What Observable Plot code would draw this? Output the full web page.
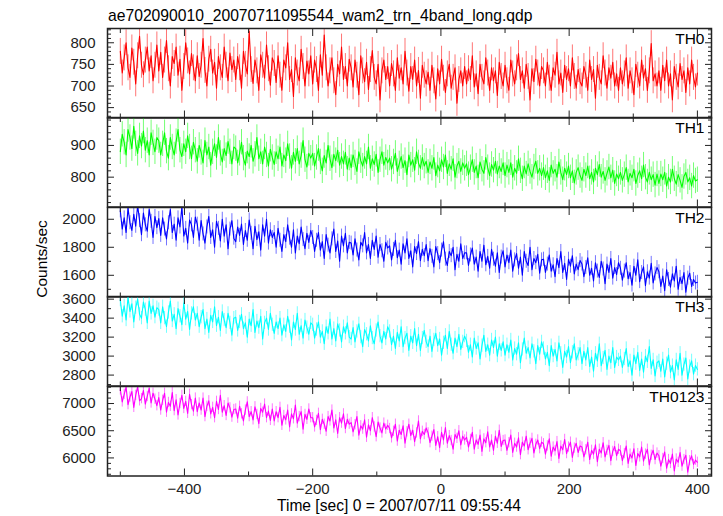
<!DOCTYPE html>
<html><head><meta charset="utf-8">
<script src="https://cdn.jsdelivr.net/npm/d3@7"></script>
<script src="https://cdn.jsdelivr.net/npm/@observablehq/plot@0.6"></script>
<style>
body{margin:0;background:#fff;}
#chart{position:relative;width:723px;height:516px;background:#fff;font-family:"Liberation Sans",Arial,sans-serif;overflow:hidden}
#chart svg{position:absolute;left:0;overflow:visible;background:transparent}
</style></head><body><div id="chart"></div>
<script>
// time grid (seconds relative to 2007/07/11 09:55:44)
const tStart = -500, tStep = 3;
const xDomain = [-520, 422];
const xMajorTicks = [-400, -200, 0, 200, 400];
const xMinorTicks = [-500, -300, -100, 100, 300];

const panelLabels = ["TH0", "TH1", "TH2", "TH3", "TH0123"];
const panelColors = ["#ff0000", "#00ff00", "#0000ff", "#00ffff", "#ff00ff"];
const panelErrors = [30, 40, 50, 70, 95];

const th0Values = [
780,730,765,800,742,720,788,755,705,770,815,748,726,760,790,735,770,712,748,795,
735,778,720,760,805,740,700,768,752,790,725,762,690,745,800,758,728,775,742,712,
770,722,748,810,736,700,762,785,730,755,695,768,742,720,790,748,712,776,738,760,
715,768,742,695,780,750,728,826,738,706,760,735,690,772,748,718,795,740,702,765,
752,708,770,725,690,760,742,800,715,738,676,765,730,712,785,745,700,758,728,770,
705,760,738,690,772,725,818,742,700,735,765,712,680,750,728,790,715,745,700,762,
742,698,760,725,680,770,735,710,755,692,738,782,720,705,750,668,735,760,715,745,
700,752,728,690,765,718,742,705,780,730,688,745,715,760,700,736,672,748,725,705,
732,690,748,712,670,740,705,762,718,685,728,750,695,720,742,660,715,735,700,745,
705,740,715,770,698,728,682,750,720,705,765,730,690,742,712,735,678,755,722,700,
748,712,690,760,728,705,742,775,715,735,695,750,722,668,740,710,762,730,700,745,
735,700,755,718,690,742,725,778,705,730,685,748,715,740,700,765,722,695,738,710,
700,745,725,690,760,715,738,672,748,720,705,770,730,695,742,718,755,700,728,690,
742,705,728,765,695,735,712,680,750,725,700,760,718,740,690,735,798,712,728,700,
735,690,748,712,760,700,728,668,745,720,698,752,715,735,685,742,705,760,720,698,
730];
const th1Values = [
880,935,910,870,950,925,890,960,905,875,930,898,945,885,915,870,940,908,880,925,
915,870,905,940,882,860,925,895,870,912,950,885,865,905,880,930,895,858,910,885,
850,900,878,845,915,870,895,838,880,905,862,925,875,848,890,868,912,880,842,895,
890,845,875,910,860,838,882,865,900,850,872,925,858,880,842,895,870,835,888,862,
840,880,858,895,835,870,852,905,865,828,878,850,890,842,868,915,855,832,875,860,
875,835,862,890,848,820,868,845,900,858,830,872,852,885,838,865,842,878,825,860,
830,870,845,818,880,852,835,865,842,895,828,858,840,872,815,855,880,838,862,845,
860,825,848,875,818,842,865,830,852,808,870,838,855,822,880,845,828,862,835,850,
815,848,828,862,805,838,820,855,832,870,812,842,825,858,800,835,850,818,845,828,
842,808,830,855,815,835,798,848,825,812,862,830,805,840,822,850,810,835,818,845,
805,838,815,845,800,828,812,858,820,795,835,810,842,818,800,832,850,812,828,805,
830,798,820,790,838,812,825,800,848,815,792,828,808,835,798,820,782,815,830,805,
790,825,805,835,795,815,785,828,808,840,800,818,790,812,832,798,822,780,810,795,
815,790,808,830,785,812,798,825,780,805,820,795,838,800,785,815,792,808,775,810,
780,810,792,815,772,800,785,825,795,778,808,790,768,802,815,785,798,772,805,788,
792];
const th2Values = [
2060,1930,2010,1905,2080,1975,1920,2035,1950,2100,1990,1890,2045,1960,1915,2070,1985,1870,2020,1940,
2005,1885,2010,1930,1860,1975,2070,1905,1965,1850,2010,1945,2090,1880,1935,1830,1995,1960,1870,2015,
1965,1850,1990,1895,1830,1945,2020,1870,1925,1800,1985,1935,1845,2000,1880,1960,1790,1930,1990,1865,
1840,1945,1885,1965,1820,1920,1850,1995,1900,1790,1950,1855,1910,1780,1960,1880,2000,1830,1925,1870,
1905,1800,1935,1850,1770,1890,1840,1960,1865,1800,1925,1760,1880,1825,1945,1855,1790,1900,1835,1920,
1870,1770,1850,1905,1780,1840,1720,1890,1815,1760,1860,1930,1770,1845,1700,1880,1810,1900,1760,1835,
1830,1745,1860,1780,1710,1835,1810,1905,1760,1820,1720,1850,1785,1880,1730,1820,1775,1700,1835,1795,
1810,1710,1785,1850,1725,1780,1680,1825,1760,1860,1720,1775,1660,1805,1755,1840,1705,1785,1740,1820,
1705,1790,1735,1660,1805,1755,1690,1780,1840,1715,1670,1770,1740,1800,1640,1750,1700,1825,1720,1760,
1760,1670,1745,1795,1680,1730,1630,1770,1700,1815,1675,1735,1650,1785,1715,1665,1760,1620,1730,1775,
1660,1745,1690,1780,1630,1710,1755,1650,1730,1600,1770,1700,1670,1800,1640,1720,1690,1750,1615,1710,
1715,1620,1680,1745,1630,1675,1590,1720,1655,1770,1620,1685,1570,1715,1665,1740,1610,1680,1640,1705,
1680,1590,1655,1725,1600,1650,1560,1690,1630,1585,1700,1645,1540,1680,1620,1720,1580,1655,1605,1690,
1650,1565,1630,1690,1575,1620,1530,1665,1600,1710,1555,1620,1660,1525,1625,1580,1685,1545,1610,1655,
1625,1520,1595,1490,1640,1570,1515,1610,1560,1665,1500,1585,1540,1620,1480,1580,1615,1520,1570,1545,
1550];
const th3Values = [
3590,3420,3530,3380,3620,3470,3550,3360,3510,3600,3440,3400,3570,3490,3350,3580,3450,3530,3410,3510,
3490,3350,3520,3400,3310,3460,3580,3370,3440,3290,3500,3420,3330,3560,3390,3470,3280,3450,3520,3380,
3450,3310,3410,3490,3290,3390,3250,3430,3360,3520,3320,3410,3270,3470,3380,3300,3450,3350,3220,3400,
3410,3270,3360,3440,3290,3350,3200,3390,3320,3490,3250,3370,3300,3420,3180,3350,3400,3280,3450,3330,
3240,3360,3290,3400,3220,3330,3260,3420,3310,3170,3360,3280,3450,3230,3320,3190,3380,3300,3230,3350,
3330,3190,3280,3360,3200,3260,3130,3310,3240,3390,3180,3290,3160,3340,3270,3150,3310,3240,3350,3200,
3180,3300,3150,3260,3340,3200,3100,3280,3230,3160,3320,3190,3130,3270,3360,3210,3140,3260,3180,3310,
3260,3120,3210,3080,3250,3160,3310,3100,3190,3240,3060,3210,3140,3290,3110,3230,3060,3190,3270,3150,
3100,3210,3050,3170,3240,3110,3180,3010,3140,3220,3080,3260,3120,3030,3190,3100,3230,3070,3150,3210,
3160,3040,3120,2990,3190,3080,3140,2970,3110,3220,3050,3120,3010,3170,3090,3200,3000,3130,3060,3150,
3010,3120,3040,3170,2960,3080,3020,3140,2930,3070,3190,3030,3090,2980,3130,3050,2920,3110,3020,3150,
3080,2970,3040,2900,3110,3000,3070,2950,3140,3030,2880,3050,2990,3100,2930,3040,3130,2960,3020,3090,
2920,3050,2960,3090,2890,2990,2840,3030,2950,3130,2900,2980,3060,2860,3000,2930,3090,2880,2990,2960,
3000,2880,2970,3080,2890,2950,2800,3010,2920,3040,2850,2970,2830,3000,2940,3100,2870,2960,2790,2930,
2950,2840,2970,2780,2920,3010,2830,2900,2750,2960,2860,3030,2800,2910,2980,2760,2890,2950,2810,2900,
2860];
const th0123Values = [
7250,7030,7170,7300,6980,7120,7220,6930,7150,7310,7050,7090,7240,6990,7130,7280,7010,7190,7080,6960,
7110,6880,7060,7190,6840,7020,6950,7200,6870,7070,6790,7000,7150,6910,7040,6820,7170,6980,6860,7100,
6850,7010,6880,7100,6760,6950,7050,6810,6930,6740,7040,6890,7150,6840,6960,6780,7010,6920,6750,6890,
6900,6730,6950,6810,6680,6880,7030,6760,6850,6700,6940,6800,6630,6910,6840,6990,6740,6860,6690,6900,
6680,6850,6740,6930,6600,6780,6700,6880,6570,6810,6720,6970,6640,6760,6850,6530,6800,6710,6900,6740,
6740,6570,6690,6820,6520,6710,6620,6490,6760,6680,6880,6550,6700,6450,6740,6640,6810,6540,6710,6620,
6650,6480,6610,6760,6420,6590,6530,6700,6380,6610,6500,6740,6570,6390,6660,6550,6460,6640,6530,6600,
6540,6370,6490,6620,6310,6510,6430,6590,6270,6480,6620,6410,6510,6300,6460,6680,6350,6490,6430,6550,
6460,6280,6400,6520,6230,6390,6190,6470,6330,6560,6270,6410,6320,6160,6430,6360,6500,6240,6400,6330,
6380,6200,6340,6470,6160,6330,6250,6420,6120,6350,6280,6480,6200,6330,6140,6400,6270,6510,6210,6320,
6330,6140,6280,6420,6100,6270,6200,6370,6060,6290,6220,6400,6150,6270,6360,6090,6250,6330,6170,6290,
6260,6070,6220,6350,6030,6200,6130,6300,5990,6220,6150,6340,6080,6200,6290,6010,6180,6270,6100,6220,
6200,6020,6150,6290,5970,6140,6070,6240,5930,6160,6090,6280,6020,6140,6230,5950,6120,6210,6040,6160,
6130,5950,6080,6220,5900,6070,6000,6170,5860,6080,6020,6200,5940,6070,6160,5870,6050,6140,5970,6090,
6040,5850,5990,6110,5810,5970,5900,6070,5760,5980,5920,6100,5850,5970,6050,5740,5950,6040,5880,5960,
5920];

const yDomains = [[626, 833], [706, 988], [1445, 2084], [2685, 3628], [5668, 7313]];
const yMajorTicks = [[650, 700, 750, 800], [800, 900], [1600, 1800, 2000], [2800, 3000, 3200, 3400, 3600], [6000, 6500, 7000]];
const yMinorTicks = [
  [630,640,660,670,680,690,710,720,730,740,760,770,780,790,810,820,830],
  [720,740,760,780,820,840,860,880,920,940,960,980],
  [1500, 1700, 1900],
  [2700, 2900, 3100, 3300, 3500],
  [5700,5800,5900,6100,6200,6300,6400,6600,6700,6800,6900,7100,7200,7300]
];
const seriesValues = [th0Values, th1Values, th2Values, th3Values, th0123Values];

const titleText = "ae702090010_20070711095544_wam2_trn_4band_long.qdp";
const yLabelText = "Counts/sec";
const xLabelText = "Time [sec] 0 = 2007/07/11 09:55:44";

const W = 723;
const frameLeft = 107, frameRight = 711;
const panelTop0 = 27.5, panelH = 89.5;
const pad = 20;
const chart = document.getElementById("chart");
const axisColor = "#222";
const fontFam = "'Liberation Sans', Arial, sans-serif";

for (let i = 0; i < 5; i++) {
  const data = seriesValues[i].map((v, k) => ({t: tStart + k * tStep, v}));
  const err = panelErrors[i];
  const last = i === 4;
  const mb = last ? 45 : pad;
  const marks = [
    Plot.ruleX(data, {x: "t", y1: d => d.v - err, y2: d => d.v + err, stroke: panelColors[i], strokeOpacity: 0.55, strokeWidth: 1, clip: true}),
    Plot.line(data, {x: "t", y: "v", stroke: panelColors[i], strokeWidth: 1.1, clip: true}),
    Plot.axisY({anchor: "left", ticks: yMajorTicks[i], tickSize: -7, tickPadding: 19, tickFormat: "d", label: null, fontSize: 15}),
    Plot.axisY({anchor: "left", ticks: yMinorTicks[i], tickSize: -4, tickFormat: () => "", label: null}),
    Plot.axisY({anchor: "right", ticks: yMajorTicks[i], tickSize: -7, tickFormat: () => "", label: null}),
    Plot.axisY({anchor: "right", ticks: yMinorTicks[i], tickSize: -4, tickFormat: () => "", label: null}),
    Plot.axisX({anchor: "top", ticks: xMajorTicks, tickSize: -7, tickFormat: () => "", label: null}),
    Plot.axisX({anchor: "top", ticks: xMinorTicks, tickSize: -4, tickFormat: () => "", label: null}),
    Plot.axisX({anchor: "bottom", ticks: xMajorTicks, tickSize: -7, tickPadding: 14, label: null, fontSize: 15, tickFormat: last ? "d" : () => ""}),
    Plot.axisX({anchor: "bottom", ticks: xMinorTicks, tickSize: -4, tickFormat: () => "", label: null}),
    Plot.frame({stroke: axisColor, strokeWidth: 1.5}),
    Plot.text([panelLabels[i]], {frameAnchor: "top-right", dx: -7, dy: 4, lineAnchor: "top", textAnchor: "end", fontSize: 15.5, fill: "#000"})
  ];
  const svg = Plot.plot({
    width: W,
    height: panelH + pad + mb,
    marginLeft: frameLeft, marginRight: W - frameRight,
    marginTop: pad, marginBottom: mb,
    x: {domain: xDomain},
    y: {domain: yDomains[i]},
    style: {fontFamily: fontFam, fontSize: "15px", color: axisColor, background: "transparent", overflow: "visible"},
    marks
  });
  svg.style.top = (panelTop0 + i * panelH - pad) + "px";
  chart.appendChild(svg);
}

// overlay texts
const ov = d3.create("svg").attr("width", W).attr("height", 516).style("top", "0px")
  .style("font-family", fontFam);
ov.append("text").attr("x", 108).attr("y", 21).attr("font-size", 15.7).attr("fill", "#000").text(titleText);
ov.append("text").attr("transform", "translate(46.5,259) rotate(-90)").attr("text-anchor", "middle").attr("font-size", 15.5).attr("fill", "#000").text(yLabelText);
ov.append("text").attr("x", 399).attr("y", 511).attr("text-anchor", "middle").attr("font-size", 15.6).attr("fill", "#000").text(xLabelText);
chart.appendChild(ov.node());
</script></body></html>
